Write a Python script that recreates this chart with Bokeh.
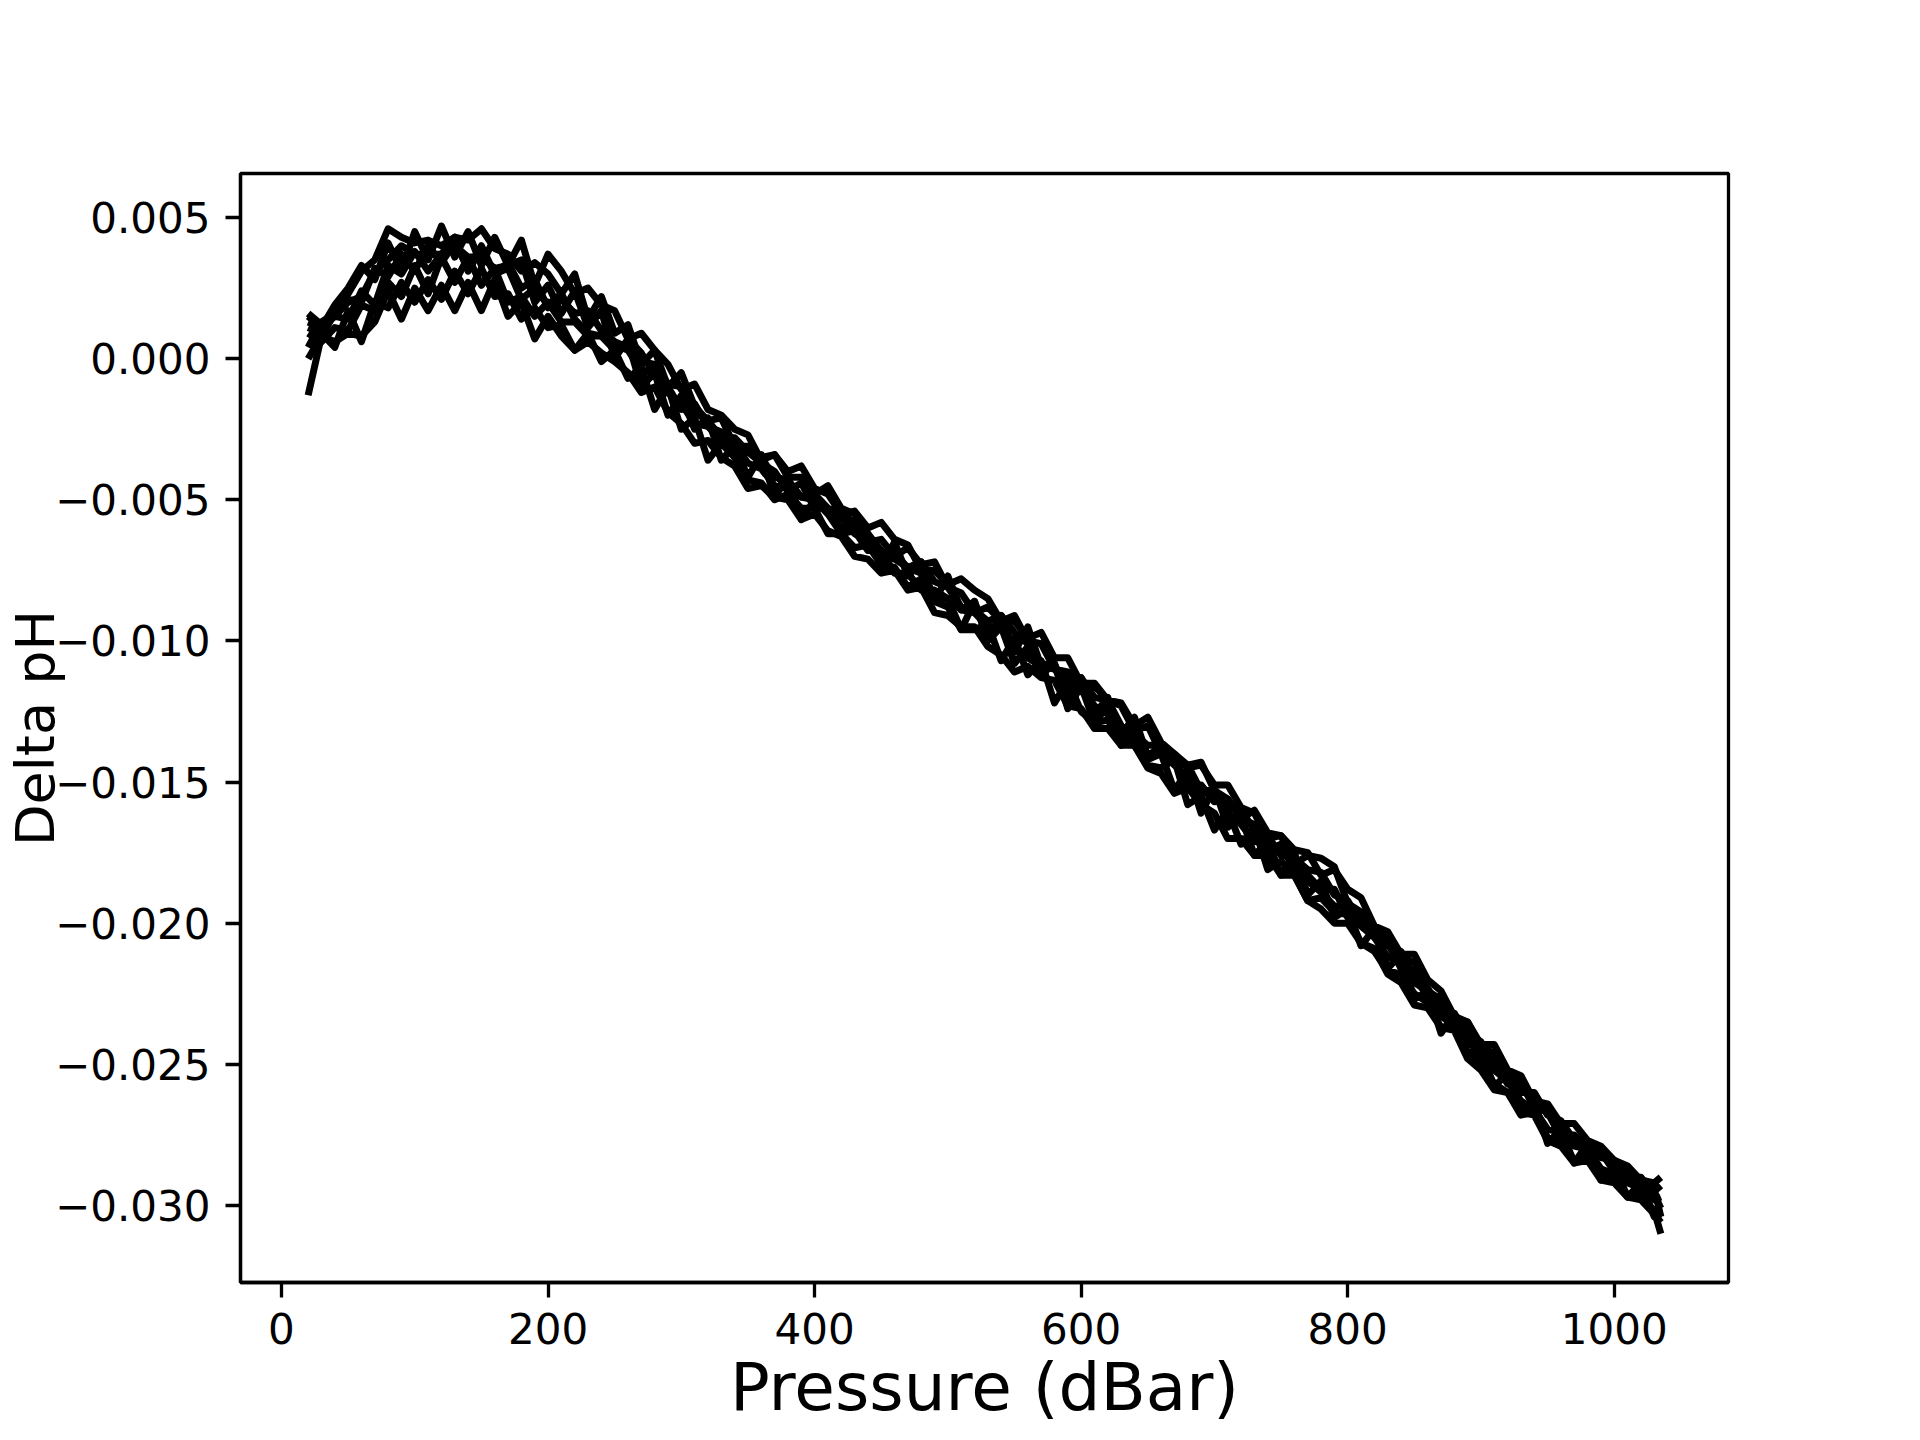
from bokeh.plotting import figure
from bokeh.models import Range1d, FixedTicker, CustomJSTickFormatter
from bokeh.embed import file_html
from bokeh.resources import INLINE

# Pressure levels (dBar)
pressure = [20, 30, 40, 50, 60, 70, 80, 90, 100, 110, 120, 130, 140, 150, 160, 170, 180, 190, 200, 210,
            220, 230, 240, 250, 260, 270, 280, 290, 300, 310, 320, 330, 340, 350, 360, 370, 380, 390, 400, 410,
            420, 430, 440, 450, 460, 470, 480, 490, 500, 510, 520, 530, 540, 550, 560, 570, 580, 590, 600, 610,
            620, 630, 640, 650, 660, 670, 680, 690, 700, 710, 720, 730, 740, 750, 760, 770, 780, 790, 800, 810,
            820, 830, 840, 850, 860, 870, 880, 890, 900, 910, 920, 930, 940, 950, 960, 970, 980, 990, 1000, 1010,
            1020, 1030, 1035]

# Delta pH for each profile
profile_a = [0.0, 0.0008, 0.0016, 0.0023, 0.0031, 0.0035, 0.0046, 0.0043, 0.0041, 0.0042,
             0.0040, 0.0043, 0.0042, 0.0046, 0.0039, 0.0037, 0.0031, 0.0034, 0.0030, 0.0023,
             0.0030, 0.0014, 0.0022, 0.0009, 0.0012, -0.0002, 0.0003, -0.0010, -0.0005, -0.0017,
             -0.0022, -0.0021, -0.0031, -0.0031, -0.0035, -0.0034, -0.0042, -0.0042, -0.0048, -0.0045,
             -0.0053, -0.0055, -0.0065, -0.0064, -0.0070, -0.0067, -0.0073, -0.0072, -0.0081, -0.0083,
             -0.0090, -0.0088, -0.0093, -0.0091, -0.0100, -0.0101, -0.0110, -0.0111, -0.0118, -0.0116,
             -0.0121, -0.0123, -0.0132, -0.0130, -0.0140, -0.0140, -0.0144, -0.0143, -0.0153, -0.0156,
             -0.0163, -0.0160, -0.0168, -0.0169, -0.0179, -0.0176, -0.0177, -0.0180, -0.0193, -0.0196,
             -0.0204, -0.0205, -0.0212, -0.0214, -0.0224, -0.0227, -0.0236, -0.0235, -0.0244, -0.0246,
             -0.0256, -0.0255, -0.0263, -0.0265, -0.0275, -0.0275, -0.0280, -0.0280, -0.0285, -0.0287,
             -0.0294, -0.0295, -0.0293]
profile_b = [-0.0013, 0.0008, 0.0006, 0.0009, 0.0008, 0.0013, 0.0024, 0.0014, 0.0025, 0.0017,
             0.0026, 0.0017, 0.0027, 0.0017, 0.0028, 0.0015, 0.0020, 0.0007, 0.0015, 0.0008,
             0.0003, 0.0009, -0.0001, 0.0003, -0.0007, -0.0003, -0.0018, -0.0010, -0.0025, -0.0021,
             -0.0036, -0.0030, -0.0035, -0.0043, -0.0044, -0.0050, -0.0048, -0.0053, -0.0053, -0.0062,
             -0.0062, -0.0067, -0.0066, -0.0073, -0.0074, -0.0081, -0.0078, -0.0086, -0.0088, -0.0096,
             -0.0096, -0.0094, -0.0107, -0.0099, -0.0112, -0.0107, -0.0122, -0.0114, -0.0125, -0.0129,
             -0.0128, -0.0136, -0.0137, -0.0144, -0.0145, -0.0142, -0.0158, -0.0155, -0.0167, -0.0160,
             -0.0172, -0.0166, -0.0181, -0.0178, -0.0183, -0.0192, -0.0191, -0.0196, -0.0197, -0.0207,
             -0.0210, -0.0217, -0.0218, -0.0225, -0.0228, -0.0237, -0.0237, -0.0247, -0.0249, -0.0257,
             -0.0260, -0.0268, -0.0267, -0.0276, -0.0277, -0.0284, -0.0283, -0.0290, -0.0291, -0.0297,
             -0.0296, -0.0302, -0.0310]
profile_c = [0.0015, 0.0011, 0.0015, 0.0020, 0.0022, 0.0031, 0.0035, 0.0040, 0.0037, 0.0037,
             0.0037, 0.0040, 0.0036, 0.0036, 0.0032, 0.0033, 0.0035, 0.0020, 0.0026, 0.0016,
             0.0024, 0.0011, 0.0017, 0.0000, 0.0007, 0.0002, -0.0006, -0.0010, -0.0018, -0.0016,
             -0.0024, -0.0026, -0.0035, -0.0033, -0.0037, -0.0040, -0.0047, -0.0044, -0.0053, -0.0053,
             -0.0060, -0.0059, -0.0062, -0.0074, -0.0065, -0.0077, -0.0072, -0.0086, -0.0077, -0.0089,
             -0.0086, -0.0099, -0.0091, -0.0104, -0.0095, -0.0109, -0.0108, -0.0120, -0.0113, -0.0126,
             -0.0120, -0.0133, -0.0127, -0.0141, -0.0137, -0.0142, -0.0151, -0.0151, -0.0157, -0.0156,
             -0.0163, -0.0165, -0.0174, -0.0172, -0.0181, -0.0183, -0.0188, -0.0188, -0.0198, -0.0198,
             -0.0205, -0.0207, -0.0216, -0.0219, -0.0226, -0.0226, -0.0236, -0.0239, -0.0249, -0.0249,
             -0.0257, -0.0257, -0.0265, -0.0267, -0.0276, -0.0276, -0.0282, -0.0281, -0.0288, -0.0289,
             -0.0295, -0.0294, -0.0304]
profile_d = [0.0009, 0.0006, 0.0011, 0.0010, 0.0019, 0.0017, 0.0027, 0.0022, 0.0033, 0.0023,
             0.0036, 0.0027, 0.0036, 0.0026, 0.0032, 0.0020, 0.0022, 0.0015, 0.0020, 0.0013,
             0.0013, 0.0008, 0.0008, 0.0003, 0.0006, -0.0010, -0.0005, -0.0020, -0.0013, -0.0025,
             -0.0021, -0.0036, -0.0031, -0.0042, -0.0034, -0.0049, -0.0042, -0.0057, -0.0050, -0.0055,
             -0.0062, -0.0061, -0.0068, -0.0068, -0.0076, -0.0076, -0.0082, -0.0082, -0.0085, -0.0096,
             -0.0086, -0.0100, -0.0095, -0.0108, -0.0102, -0.0112, -0.0108, -0.0124, -0.0116, -0.0129,
             -0.0123, -0.0137, -0.0129, -0.0142, -0.0140, -0.0153, -0.0146, -0.0161, -0.0152, -0.0166,
             -0.0162, -0.0176, -0.0171, -0.0183, -0.0175, -0.0190, -0.0185, -0.0198, -0.0195, -0.0208,
             -0.0202, -0.0216, -0.0211, -0.0227, -0.0224, -0.0239, -0.0232, -0.0246, -0.0245, -0.0258,
             -0.0253, -0.0267, -0.0263, -0.0278, -0.0273, -0.0285, -0.0278, -0.0291, -0.0286, -0.0297,
             -0.0292, -0.0304, -0.0303]
profile_e = [0.0013, 0.0011, 0.0019, 0.0025, 0.0033, 0.0028, 0.0041, 0.0031, 0.0045, 0.0035,
             0.0047, 0.0036, 0.0045, 0.0033, 0.0043, 0.0033, 0.0042, 0.0026, 0.0037, 0.0031,
             0.0023, 0.0025, 0.0019, 0.0017, 0.0007, 0.0009, 0.0003, -0.0002, -0.0011, -0.0009,
             -0.0018, -0.0020, -0.0025, -0.0027, -0.0036, -0.0034, -0.0040, -0.0038, -0.0046, -0.0048,
             -0.0055, -0.0054, -0.0060, -0.0058, -0.0064, -0.0066, -0.0075, -0.0075, -0.0080, -0.0078,
             -0.0082, -0.0085, -0.0093, -0.0093, -0.0099, -0.0097, -0.0106, -0.0106, -0.0115, -0.0115,
             -0.0121, -0.0122, -0.0130, -0.0127, -0.0136, -0.0140, -0.0145, -0.0144, -0.0151, -0.0151,
             -0.0159, -0.0161, -0.0170, -0.0169, -0.0174, -0.0175, -0.0183, -0.0181, -0.0188, -0.0191,
             -0.0201, -0.0203, -0.0211, -0.0211, -0.0220, -0.0224, -0.0233, -0.0235, -0.0243, -0.0243,
             -0.0252, -0.0254, -0.0263, -0.0264, -0.0271, -0.0271, -0.0277, -0.0279, -0.0284, -0.0286,
             -0.0291, -0.0292, -0.0290]
profile_f = [0.0011, 0.0009, 0.0004, 0.0017, 0.0006, 0.0020, 0.0018, 0.0027, 0.0020, 0.0028,
             0.0021, 0.0031, 0.0023, 0.0032, 0.0022, 0.0023, 0.0014, 0.0018, 0.0011, 0.0012,
             0.0003, 0.0006, 0.0002, -0.0001, -0.0005, -0.0012, -0.0010, -0.0019, -0.0023, -0.0030,
             -0.0029, -0.0035, -0.0038, -0.0046, -0.0045, -0.0049, -0.0050, -0.0057, -0.0055, -0.0061,
             -0.0063, -0.0070, -0.0071, -0.0076, -0.0075, -0.0082, -0.0081, -0.0090, -0.0091, -0.0095,
             -0.0095, -0.0102, -0.0105, -0.0111, -0.0109, -0.0113, -0.0114, -0.0123, -0.0124, -0.0131,
             -0.0131, -0.0137, -0.0137, -0.0145, -0.0147, -0.0154, -0.0152, -0.0158, -0.0161, -0.0170,
             -0.0170, -0.0176, -0.0176, -0.0183, -0.0183, -0.0192, -0.0195, -0.0200, -0.0200, -0.0207,
             -0.0209, -0.0218, -0.0221, -0.0229, -0.0230, -0.0237, -0.0238, -0.0248, -0.0252, -0.0259,
             -0.0260, -0.0267, -0.0268, -0.0277, -0.0279, -0.0285, -0.0284, -0.0291, -0.0292, -0.0297,
             -0.0298, -0.0303, -0.0306]
profile_g = [0.0016, 0.0012, 0.0015, 0.0014, 0.0024, 0.0019, 0.0033, 0.0030, 0.0038, 0.0031,
             0.0037, 0.0043, 0.0031, 0.0039, 0.0030, 0.0032, 0.0021, 0.0025, 0.0019, 0.0023,
             0.0014, 0.0009, 0.0008, 0.0005, 0.0003, -0.0004, -0.0005, -0.0012, -0.0016, -0.0023,
             -0.0024, -0.0029, -0.0030, -0.0037, -0.0039, -0.0045, -0.0046, -0.0049, -0.0050, -0.0055,
             -0.0056, -0.0062, -0.0065, -0.0070, -0.0071, -0.0074, -0.0076, -0.0085, -0.0085, -0.0089,
             -0.0090, -0.0095, -0.0095, -0.0102, -0.0106, -0.0109, -0.0110, -0.0115, -0.0116, -0.0123,
             -0.0126, -0.0133, -0.0135, -0.0140, -0.0139, -0.0144, -0.0148, -0.0154, -0.0154, -0.0161,
             -0.0165, -0.0171, -0.0172, -0.0175, -0.0177, -0.0185, -0.0189, -0.0194, -0.0194, -0.0201,
             -0.0205, -0.0212, -0.0213, -0.0221, -0.0224, -0.0233, -0.0236, -0.0242, -0.0246, -0.0252,
             -0.0256, -0.0263, -0.0266, -0.0273, -0.0274, -0.0279, -0.0280, -0.0287, -0.0289, -0.0292,
             -0.0294, -0.0298, -0.0297]
profile_h = [0.0004, 0.0013, 0.0016, 0.0021, 0.0020, 0.0032, 0.0029, 0.0037, 0.0031, 0.0040,
             0.0034, 0.0041, 0.0032, 0.0040, 0.0030, 0.0034, 0.0025, 0.0028, 0.0018, 0.0021,
             0.0016, 0.0017, 0.0010, 0.0006, 0.0004, -0.0001, -0.0002, -0.0009, -0.0010, -0.0019,
             -0.0022, -0.0028, -0.0028, -0.0033, -0.0035, -0.0042, -0.0043, -0.0049, -0.0048, -0.0053,
             -0.0055, -0.0058, -0.0062, -0.0068, -0.0069, -0.0074, -0.0072, -0.0079, -0.0081, -0.0088,
             -0.0089, -0.0093, -0.0091, -0.0097, -0.0101, -0.0108, -0.0109, -0.0114, -0.0113, -0.0120,
             -0.0121, -0.0130, -0.0133, -0.0137, -0.0137, -0.0143, -0.0144, -0.0153, -0.0153, -0.0159,
             -0.0160, -0.0167, -0.0169, -0.0176, -0.0177, -0.0181, -0.0182, -0.0190, -0.0192, -0.0200,
             -0.0201, -0.0208, -0.0210, -0.0219, -0.0223, -0.0231, -0.0232, -0.0239, -0.0242, -0.0250,
             -0.0253, -0.0260, -0.0260, -0.0268, -0.0270, -0.0277, -0.0278, -0.0283, -0.0284, -0.0290,
             -0.0290, -0.0296, -0.0301]

profiles = [profile_a, profile_b, profile_c, profile_d, profile_e, profile_f, profile_g, profile_h]

x_ticks = [0, 200, 400, 600, 800, 1000]
y_ticks = [-0.030, -0.025, -0.020, -0.015, -0.010, -0.005, 0.000, 0.005]
x_label = "Pressure (dBar)"
y_label = "Delta pH"

X_START, X_END = -30.75, 1085.75
Y_START, Y_END = -0.03273, 0.00656

p = figure(width=1920, height=1440,
           x_range=Range1d(X_START, X_END), y_range=Range1d(Y_START, Y_END),
           output_backend="svg", toolbar_location=None,
           min_border_left=240, min_border_right=192,
           min_border_top=173, min_border_bottom=158,
           background_fill_color="white", border_fill_color="white")

for prof in profiles:
    n = min(len(pressure), len(prof))
    p.line(pressure[:n], prof[:n], line_color="black", line_width=7, line_join="round")

p.grid.visible = False
p.outline_line_color = "black"
p.outline_line_width = 3.3

for ax in (p.xaxis[0], p.yaxis[0]):
    ax.axis_line_color = "black"
    ax.axis_line_width = 3.3
    ax.major_tick_line_color = "black"
    ax.major_tick_line_width = 3.3
    ax.major_tick_in = 0
    ax.major_tick_out = 15
    ax.minor_tick_line_color = None
    ax.major_label_standoff = 15
    ax.major_label_text_font = "DejaVu Sans"
    ax.major_label_text_font_size = "42px"
    ax.major_label_text_color = "black"
    ax.axis_label_text_font = "DejaVu Sans"
    ax.axis_label_text_font_style = "normal"
    ax.axis_label_text_color = "black"

p.xaxis[0].axis_label = x_label
p.xaxis[0].axis_label_text_font_size = "66px"
p.xaxis[0].axis_label_standoff = 2
p.yaxis[0].axis_label = y_label
p.yaxis[0].axis_label_text_font_size = "54px"
p.yaxis[0].axis_label_standoff = -15

p.xaxis[0].ticker = FixedTicker(ticks=x_ticks)
p.yaxis[0].ticker = FixedTicker(ticks=y_ticks)
p.yaxis[0].formatter = CustomJSTickFormatter(code="""
const v = Math.abs(tick) < 1e-12 ? 0 : tick;
const s = Math.abs(v).toFixed(3);
return v < 0 ? "\u2212" + s : s;
""")

open("out.html", "w", encoding="utf-8").write(file_html(p, INLINE))
